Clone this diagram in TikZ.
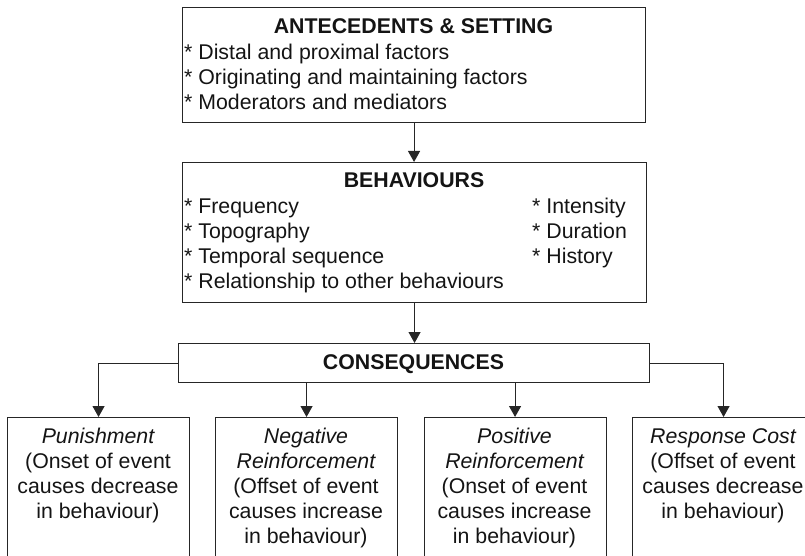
\documentclass[tikz,border=0pt]{standalone}
\usepackage{fontspec}
\setmainfont{Liberation Sans}
\usetikzlibrary{arrows.meta}
\begin{document}
\begin{tikzpicture}[x=1pt,y=-1pt,
  box/.style={draw=black!85, line width=1.1pt, rectangle, inner sep=0pt, anchor=north west},
  lbl/.style={inner sep=0pt, font=\fontsize{21.3}{25}\selectfont, text=black!92},
  hd/.style={lbl, font=\fontsize{21.3}{25}\selectfont\bfseries, anchor=base},
  itemL/.style={lbl, anchor=base west},
  ctr/.style={lbl, anchor=base},
  arr/.style={draw=black!85, line width=1.1pt, -{Triangle[length=11pt,width=12pt]}}
]
\useasboundingbox (0,0) rectangle (805,556);
\clip (0,0) rectangle (805,556);

% boxes
\node[box, minimum width=463pt, minimum height=115pt] (ante) at (182,7) {};
\node[box, minimum width=464pt, minimum height=140pt] (beh) at (182,162) {};
\node[box, minimum width=471pt, minimum height=39pt] (cons) at (178,343) {};
\node[box, minimum width=182pt, minimum height=160pt] (pun) at (7,417) {};
\node[box, minimum width=182pt, minimum height=160pt] (neg) at (215,417) {};
\node[box, minimum width=182pt, minimum height=160pt] (pos) at (423.5,417) {};
\node[box, minimum width=182pt, minimum height=160pt] (rc) at (632,417) {};

% antecedents
\node[hd] (anteH) at (413.5,34) {ANTECEDENTS \& SETTING};
\node[itemL] (ante1) at (184,60) {* Distal and proximal factors};
\node[itemL] (ante2) at (184,85) {* Originating and maintaining factors};
\node[itemL] (ante3) at (184,110) {* Moderators and mediators};

% behaviours
\node[hd] (behH) at (414,187) {BEHAVIOURS};
\node[itemL] (beh1) at (184,213) {* Frequency};
\node[itemL] (beh2) at (184,238) {* Topography};
\node[itemL] (beh3) at (184,263) {* Temporal sequence};
\node[itemL] (beh4) at (184,288) {* Relationship to other behaviours};
\node[itemL] (beh5) at (532,213) {* Intensity};
\node[itemL] (beh6) at (532,238) {* Duration};
\node[itemL] (beh7) at (532,263) {* History};

% consequences
\node[hd] (consH) at (413.5,369) {CONSEQUENCES};

% outcome boxes
\node[ctr] (pun1) at (98,443) {\itshape Punishment};
\node[ctr] (pun2) at (98,468) {(Onset of event};
\node[ctr] (pun3) at (98,493) {causes decrease};
\node[ctr] (pun4) at (98,518) {in behaviour)};

\node[ctr] (neg1) at (306,443) {\itshape Negative};
\node[ctr] (neg2) at (306,468) {\itshape Reinforcement};
\node[ctr] (neg3) at (306,493) {(Offset of event};
\node[ctr] (neg4) at (306,518) {causes increase};
\node[ctr] (neg5) at (306,543) {in behaviour)};

\node[ctr] (pos1) at (514.5,443) {\itshape Positive};
\node[ctr] (pos2) at (514.5,468) {\itshape Reinforcement};
\node[ctr] (pos3) at (514.5,493) {(Onset of event};
\node[ctr] (pos4) at (514.5,518) {causes increase};
\node[ctr] (pos5) at (514.5,543) {in behaviour)};

\node[ctr] (rc1) at (723,443) {\itshape Response Cost};
\node[ctr] (rc2) at (723,468) {(Offset of event};
\node[ctr] (rc3) at (723,493) {causes decrease};
\node[ctr] (rc4) at (723,518) {in behaviour)};

% connectors
\draw[arr] (ante.south) -- (ante.south |- beh.north);
\draw[arr] (beh.south) -- (beh.south |- cons.north);
\draw[arr] (cons.west) -| (pun.north);
\draw[arr] (cons.east) -| (rc.north);
\draw[arr] (cons.south -| neg.north) -- (neg.north);
\draw[arr] (cons.south -| pos.north) -- (pos.north);
\end{tikzpicture}
\end{document}
